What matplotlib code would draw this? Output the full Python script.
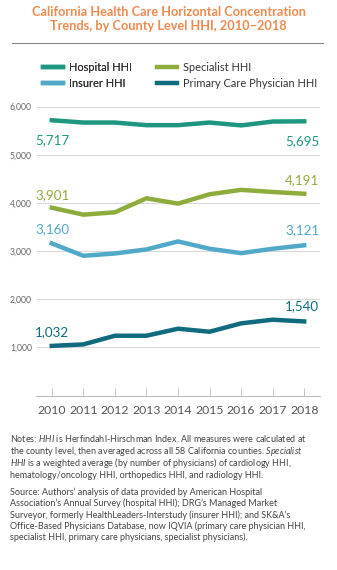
import matplotlib.pyplot as plt

plt.rcParams['font.family'] = ['Lato', 'DejaVu Sans']
plt.rcParams['mathtext.fontset'] = 'custom'
plt.rcParams['mathtext.rm'] = 'Lato'
plt.rcParams['mathtext.it'] = 'Lato:italic'

# Data
years = [2010, 2011, 2012, 2013, 2014, 2015, 2016, 2017, 2018]
hospital = [5717, 5670, 5670, 5615, 5615, 5670, 5610, 5690, 5695]
specialist = [3901, 3757, 3806, 4097, 3986, 4180, 4272, 4228, 4191]
insurer = [3160, 2903, 2951, 3035, 3201, 3049, 2958, 3049, 3121]
primary = [1032, 1063, 1243, 1243, 1389, 1326, 1500, 1576, 1540]
series_names = ['Hospital HHI', 'Specialist HHI', 'Insurer HHI', 'Primary Care Physician HHI']
yticks = [1000, 2000, 3000, 4000, 5000, 6000]

c_hosp = '#1f9780'
c_spec = '#8eac3b'
c_ins = '#51a9c9'
c_pcp = '#0f6b7d'

fig = plt.figure(figsize=(3.37, 5.70), dpi=100)

# title
fig.text(0.5, 1 - 12 / 570, 'California Health Care Horizontal Concentration',
         ha='center', va='center', color='#ee8a4e', fontsize=9.2, fontweight='bold')
fig.text(0.5, 1 - 26 / 570, 'Trends, by County Level HHI, 2010\u20132018',
         ha='center', va='center', color='#ee8a4e', fontsize=9.2, fontweight='bold')
fig.add_artist(plt.Line2D([12 / 337, 323 / 337], [1 - 43 / 570] * 2, color='#8a8a8a', lw=0.8))

ax = fig.add_axes([36 / 337, (570 - 395.6) / 570, 284 / 337, (395.6 - 97) / 570])
lw = 3.2
l_h, = ax.plot(years, hospital, color=c_hosp, lw=lw)
l_s, = ax.plot(years, specialist, color=c_spec, lw=lw)
l_i, = ax.plot(years, insurer, color=c_ins, lw=lw)
l_p, = ax.plot(years, primary, color=c_pcp, lw=lw)

ax.set_xlim(2009.5, 2018.5)
ax.set_ylim(0, 6200)
ax.set_yticks(yticks)
ax.set_yticklabels([f'{v:,}' for v in yticks], fontsize=6.2, color='#666666')
ax.set_xticks(years)
ax.set_xticklabels([str(y) for y in years], fontsize=8.8, color='#555555')
ax.tick_params(axis='y', length=0, pad=3)
ax.tick_params(axis='x', direction='in', length=6, width=0.6, color='#bbbbbb', pad=7)
ax.grid(axis='y', color='#d9d9d9', lw=0.8)
for s in ['top', 'right', 'left']:
    ax.spines[s].set_visible(False)
ax.spines['bottom'].set_color('#bbbbbb')
ax.spines['bottom'].set_linewidth(0.8)

# end labels
lab_fs = 9.6
ax.annotate(f'{hospital[0]:,}', (years[0], hospital[0]), xytext=(-12, -14), textcoords='offset points',
            color=c_hosp, fontsize=lab_fs, ha='left', va='center')
ax.annotate(f'{hospital[-1]:,}', (years[-1], hospital[-1]), xytext=(11, -14), textcoords='offset points',
            color=c_hosp, fontsize=lab_fs, ha='right', va='center')
ax.annotate(f'{specialist[0]:,}', (years[0], specialist[0]), xytext=(-12, 9), textcoords='offset points',
            color=c_spec, fontsize=lab_fs, ha='left', va='center')
ax.annotate(f'{specialist[-1]:,}', (years[-1], specialist[-1]), xytext=(11, 10), textcoords='offset points',
            color=c_spec, fontsize=lab_fs, ha='right', va='center')
ax.annotate(f'{insurer[0]:,}', (years[0], insurer[0]), xytext=(-12, 10), textcoords='offset points',
            color=c_ins, fontsize=lab_fs, ha='left', va='center')
ax.annotate(f'{insurer[-1]:,}', (years[-1], insurer[-1]), xytext=(11, 11), textcoords='offset points',
            color=c_ins, fontsize=lab_fs, ha='right', va='center')
ax.annotate(f'{primary[0]:,}', (years[0], primary[0]), xytext=(-12, 10), textcoords='offset points',
            color=c_pcp, fontsize=lab_fs, ha='left', va='center')
ax.annotate(f'{primary[-1]:,}', (years[-1], primary[-1]), xytext=(11, 11), textcoords='offset points',
            color=c_pcp, fontsize=lab_fs, ha='right', va='center')

# legend: two columns placed separately
leg_kw = dict(loc='upper left', frameon=False, fontsize=7.9, handlelength=1.85,
              handletextpad=0.5, labelspacing=0.45, labelcolor='#333333',
              borderaxespad=0, borderpad=0)
leg1 = fig.legend([l_h, l_i], [series_names[0], series_names[2]],
                  bbox_to_anchor=(43 / 337, 1 - 62 / 570), **leg_kw)
fig.legend([l_s, l_p], [series_names[1], series_names[3]],
           bbox_to_anchor=(157 / 337, 1 - 62 / 570), **leg_kw)
fig.add_artist(leg1)

# notes
notes = [
    r'Notes: $\mathit{HHI}$ is Herfindahl-Hirschman Index. All measures were calculated at',
    r'the county level, then averaged across all 58 California counties. $\mathit{Specialist}$',
    r'$\mathit{HHI}$ is a weighted average (by number of physicians) of cardiology HHI,',
    'hematology/oncology HHI, orthopedics HHI, and radiology HHI.',
]
source = [
    'Source: Authors\u2019 analysis of data provided by American Hospital',
    'Association\u2019s Annual Survey (hospital HHI); DRG\u2019s Managed Market',
    'Surveyor, formerly HealthLeaders-Interstudy (insurer HHI); and SK&A\u2019s',
    'Office-Based Physicians Database, now IQVIA (primary care physician HHI,',
    'specialist HHI, primary care physicians, specialist physicians).',
]
for i, line in enumerate(notes):
    fig.text(10 / 337, 1 - (439 + i * 12) / 570, line, fontsize=6.5, color='#444444', va='center')
for i, line in enumerate(source):
    fig.text(10 / 337, 1 - (492 + i * 11.4) / 570, line, fontsize=6.5, color='#444444', va='center')

fig.savefig('out.png', dpi=100)
